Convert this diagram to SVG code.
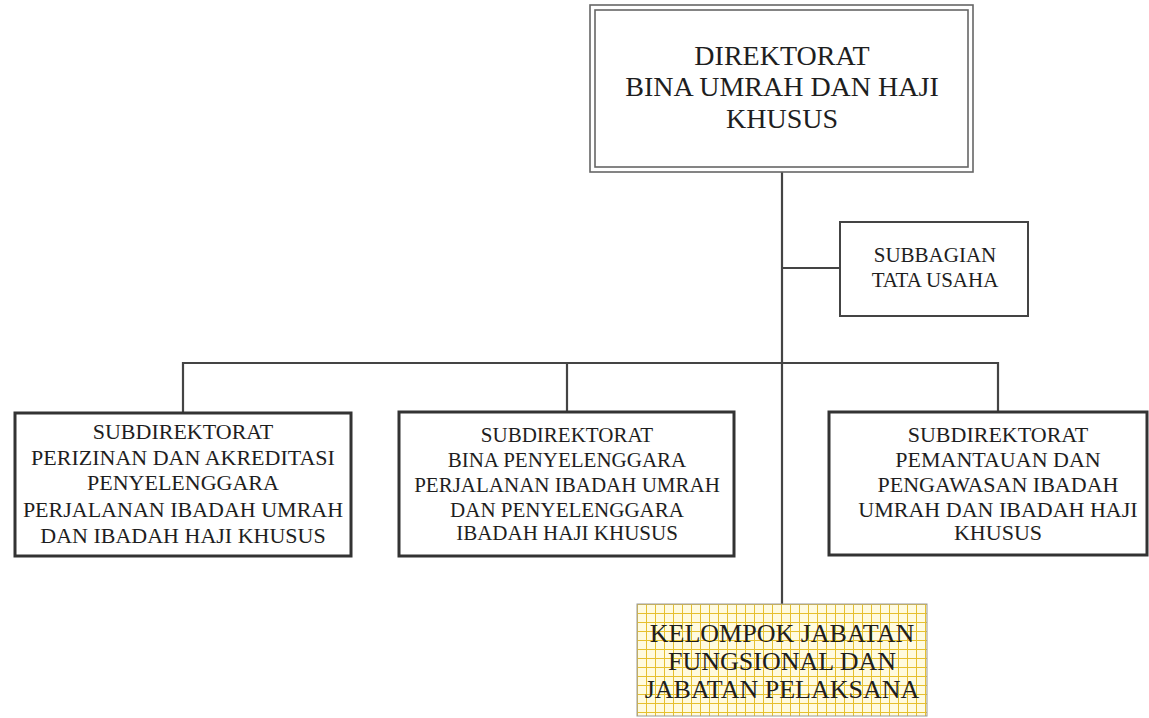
<svg xmlns="http://www.w3.org/2000/svg" width="1149" height="718" viewBox="0 0 1149 718">
  <defs>
    <pattern id="grid" x="637" y="604" width="9" height="9" patternUnits="userSpaceOnUse">
      <rect width="9" height="9" fill="#fffbe0"/>
      <path d="M0 0.5H9M0.5 0V9" stroke="#e6c030" stroke-width="1" fill="none"/>
    </pattern>
    <style>
      text { font-family: "Liberation Serif", "Times New Roman", serif; fill: #1e1e1e; text-anchor: middle; }
      .conn { stroke: #444; stroke-width: 2.2; fill: none; }
      .box { fill: #fff; stroke: #333; stroke-width: 3; }
      .dbl { fill: none; stroke: #666; stroke-width: 1.6; }
    </style>
  </defs>
  <rect width="1149" height="718" fill="#fff"/>

  <g id="connectors">
    <path class="conn" d="M782 172V604"/>
    <path class="conn" d="M782 268H840"/>
    <path class="conn" d="M183 413V363H998V412"/>
    <path class="conn" d="M567 363V412"/>
  </g>

  <g id="direktorat">
    <rect x="590" y="5" width="383" height="167" fill="#fff" class="dbl"/>
    <rect x="595" y="10" width="373" height="157" class="dbl"/>
    <text x="782" y="65" font-size="28">DIREKTORAT</text>
    <text x="782" y="96" font-size="28">BINA UMRAH DAN HAJI</text>
    <text x="782" y="128" font-size="28">KHUSUS</text>
  </g>

  <g id="subbagian">
    <rect x="840" y="222" width="188" height="94" fill="#fff" stroke="#444" stroke-width="2"/>
    <text x="935" y="262" font-size="21">SUBBAGIAN</text>
    <text x="935" y="287" font-size="21">TATA USAHA</text>
  </g>

  <g id="subdit1">
    <rect x="15" y="413" width="336" height="143" class="box"/>
    <text x="183" y="439" font-size="22">SUBDIREKTORAT</text>
    <text x="183" y="465" font-size="22">PERIZINAN DAN AKREDITASI</text>
    <text x="183" y="490" font-size="22">PENYELENGGARA</text>
    <text x="183" y="517" font-size="22">PERJALANAN IBADAH UMRAH</text>
    <text x="183" y="543" font-size="22">DAN IBADAH HAJI KHUSUS</text>
  </g>

  <g id="subdit2">
    <rect x="399" y="412" width="335" height="144" class="box"/>
    <text x="567" y="442" font-size="21">SUBDIREKTORAT</text>
    <text x="567" y="467" font-size="21">BINA PENYELENGGARA</text>
    <text x="567" y="492" font-size="21">PERJALANAN IBADAH UMRAH</text>
    <text x="567" y="517" font-size="21">DAN PENYELENGGARA</text>
    <text x="567" y="540" font-size="21">IBADAH HAJI KHUSUS</text>
  </g>

  <g id="subdit3">
    <rect x="829" y="412" width="318" height="143" class="box"/>
    <text x="998" y="442" font-size="22">SUBDIREKTORAT</text>
    <text x="998" y="467" font-size="22">PEMANTAUAN DAN</text>
    <text x="998" y="492" font-size="22">PENGAWASAN IBADAH</text>
    <text x="998" y="517" font-size="22">UMRAH DAN IBADAH HAJI</text>
    <text x="998" y="540" font-size="22">KHUSUS</text>
  </g>

  <g id="kelompok">
    <rect x="637" y="604" width="290" height="112" fill="url(#grid)" stroke="#999" stroke-width="1"/>
    <text x="782" y="642" font-size="26">KELOMPOK JABATAN</text>
    <text x="782" y="670" font-size="26">FUNGSIONAL DAN</text>
    <text x="782" y="698" font-size="26">JABATAN PELAKSANA</text>
  </g>
</svg>
